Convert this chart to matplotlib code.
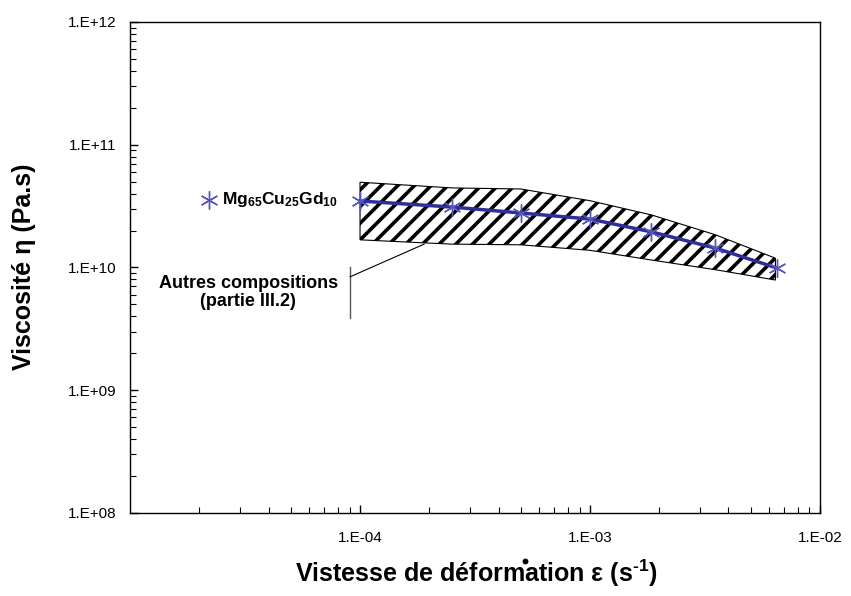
import numpy as np
import matplotlib
matplotlib.use("Agg")
import matplotlib.pyplot as plt
from matplotlib.lines import Line2D

plt.rcParams['font.family'] = ['Liberation Sans', 'DejaVu Sans']
plt.rcParams['mathtext.fontset'] = 'custom'
plt.rcParams['mathtext.rm'] = 'Liberation Sans:bold'
plt.rcParams['mathtext.bf'] = 'Liberation Sans:bold'
plt.rcParams['hatch.linewidth'] = 2.6

# Mg65Cu25Gd10 : viscosite vs vitesse de deformation
rate = [1.0e-4, 2.5e-4, 5.0e-4, 1.0e-3, 1.85e-3, 3.5e-3, 6.5e-3]
visc = [3.48e10, 3.11e10, 2.78e10, 2.48e10, 1.95e10, 1.44e10, 9.9e9]

# zone "autres compositions" (bornes haute / basse)
band_rate = [1.0e-4, 2.5e-4, 5.0e-4, 1.0e-3, 1.85e-3, 3.5e-3, 6.4e-3]
band_high = [4.95e10, 4.45e10, 4.36e10, 3.5e10, 2.68e10, 1.85e10, 1.19e10]
band_low = [1.68e10, 1.55e10, 1.53e10, 1.38e10, 1.15e10, 9.6e9, 7.9e9]

xticks = [1e-4, 1e-3, 1e-2]
xticklabels = ['1.E-04', '1.E-03', '1.E-02']
yticks = [1e8, 1e9, 1e10, 1e11, 1e12]
yticklabels = ['1.E+08', '1.E+09', '1.E+10', '1.E+11', '1.E+12']

blue = '#2e2e9a'
mblue = '#5555bb'

fig = plt.figure(figsize=(8.51, 5.96), dpi=100)
ax = fig.add_axes([0.1528, 0.1393, 0.8108, 0.8238])
ax.set_xscale('log')
ax.set_yscale('log')
ax.set_xlim(1e-5, 1e-2)
ax.set_ylim(1e8, 1e12)

# bande hachuree
poly_x = list(band_rate) + list(band_rate[::-1])
poly_y = list(band_high) + list(band_low[::-1])
ax.fill(poly_x, poly_y, facecolor='white', edgecolor='black', hatch='//', linewidth=0.8, zorder=2)

ax.plot(rate, visc, color=blue, lw=2.5, zorder=3)
ax.plot(rate, visc, ls='none', marker=(6, 2, 0), ms=13, mew=1.0, color=mblue, zorder=4)

# legende
ax.plot([2.2e-5], [3.55e10], ls='none', marker=(6, 2, 0), ms=13, mew=1.0, color=mblue)
ax.text(2.5e-5, 3.55e10, r'$\mathbf{Mg_{65}Cu_{25}Gd_{10}}$', fontsize=12.5,
        va='center', ha='left')

# annotation
ax.text(3.26e-5, 6.25e9, 'Autres compositions\n(partie III.2)', fontsize=13,
        fontweight='bold', ha='center', va='center', linespacing=1.1)
ax.plot([9.06e-5, 9.06e-5], [1.0e10, 3.9e9], color='#555555', lw=1)
ax.plot([9.06e-5, 1.9e-4], [8.4e9, 1.55e10], color='black', lw=0.8)

ax.set_xticks(xticks)
ax.set_xticklabels(xticklabels)
ax.set_yticks(yticks)
ax.set_yticklabels(yticklabels)
ax.tick_params(which='both', direction='in', top=False, right=False)
ax.tick_params(which='major', length=6, width=1, labelsize=11)
ax.tick_params(which='minor', length=4, width=0.8)
ax.tick_params(axis='x', which='major', pad=13)
ax.tick_params(axis='y', which='major', pad=10)
for s in ax.spines.values():
    s.set_linewidth(1.0)

fig.text(0.028, 0.553, 'Viscosité η (Pa.s)', rotation=90, fontsize=18,
         fontweight='bold', ha='center', va='center')
base_y = 0.024
xl = fig.text(0.56, base_y, r'Vistesse de déformation ε (s$^{\text{-}1}$)', fontsize=18,
              fontweight='bold', ha='center', va='baseline')

# point mal place au-dessus de "déformation" (comme dans l'original)
fig.canvas.draw()
r = fig.canvas.get_renderer()
bb = xl.get_window_extent(r)
tmp = fig.text(0, 0, 'Vistesse de déform', fontsize=18, fontweight='bold')
w = tmp.get_window_extent(r).width
tmp.remove()
dot = Line2D([(bb.x0 + w) / fig.bbox.width], [base_y + 21.0 / fig.bbox.height],
             marker='o', ms=3.2, color='black', ls='none', transform=fig.transFigure)
fig.add_artist(dot)

fig.savefig('out.png', dpi=100)
